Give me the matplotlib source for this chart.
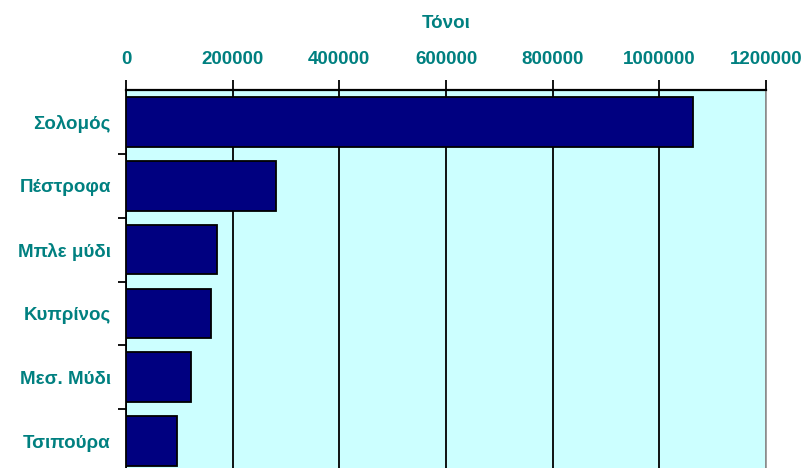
import numpy as np
import matplotlib
matplotlib.use('Agg')
import matplotlib.pyplot as plt

# data
fish = ['Σολομός', 'Πέστροφα', 'Μπλε μύδι', 'Κυπρίνος', 'Μεσ. Μύδι', 'Τσιπούρα']
tonnes = [1063000, 282000, 170000, 159000, 121000, 96000]
xticks = [0, 200000, 400000, 600000, 800000, 1000000, 1200000]

text_col = '#008080'
plt.rcParams['font.family'] = ['Liberation Sans', 'DejaVu Sans']
plt.rcParams['font.weight'] = 'bold'

fig = plt.figure(figsize=(8.06, 4.68), dpi=100)
# plot area runs past the bottom edge, like the cropped original
ax = fig.add_axes([126/806, -5/468, 640/806, 383/468])
ax.set_facecolor('#CCFFFF')

y = np.arange(len(fish))
ax.barh(y, tonnes, height=0.78, color='#000080', edgecolor='black',
        linewidth=1.3, zorder=3)

ax.set_xlim(0, 1200000)
ax.set_ylim(len(fish) - 0.5, -0.5)
ax.set_xticks(xticks)
ax.set_xticklabels([str(v) for v in xticks])
ax.xaxis.tick_top()
ax.xaxis.set_label_position('top')
ax.grid(axis='x', color='black', linewidth=1.3, zorder=1)
ax.tick_params(axis='x', direction='out', length=7, width=1.3, pad=8.5,
               labelsize=13.5, labelcolor=text_col)

ax.set_yticks(y)
ax.set_yticklabels(fish)
ax.set_yticks(np.arange(len(fish)) + 0.5, minor=True)
ax.tick_params(axis='y', which='major', length=0, pad=11,
               labelsize=13.5, labelcolor=text_col)
ax.tick_params(axis='y', which='minor', direction='out', length=6, width=1.3)

ax.set_xlabel('Τόνοι', fontsize=13.5, color=text_col, fontweight='bold',
              labelpad=17)

ax.spines['top'].set_linewidth(1.6)
ax.spines['left'].set_linewidth(1.3)
ax.spines['right'].set_color('#999999')
ax.spines['right'].set_linewidth(1.3)
ax.spines['bottom'].set_visible(False)

fig.savefig('out.png', dpi=100)
